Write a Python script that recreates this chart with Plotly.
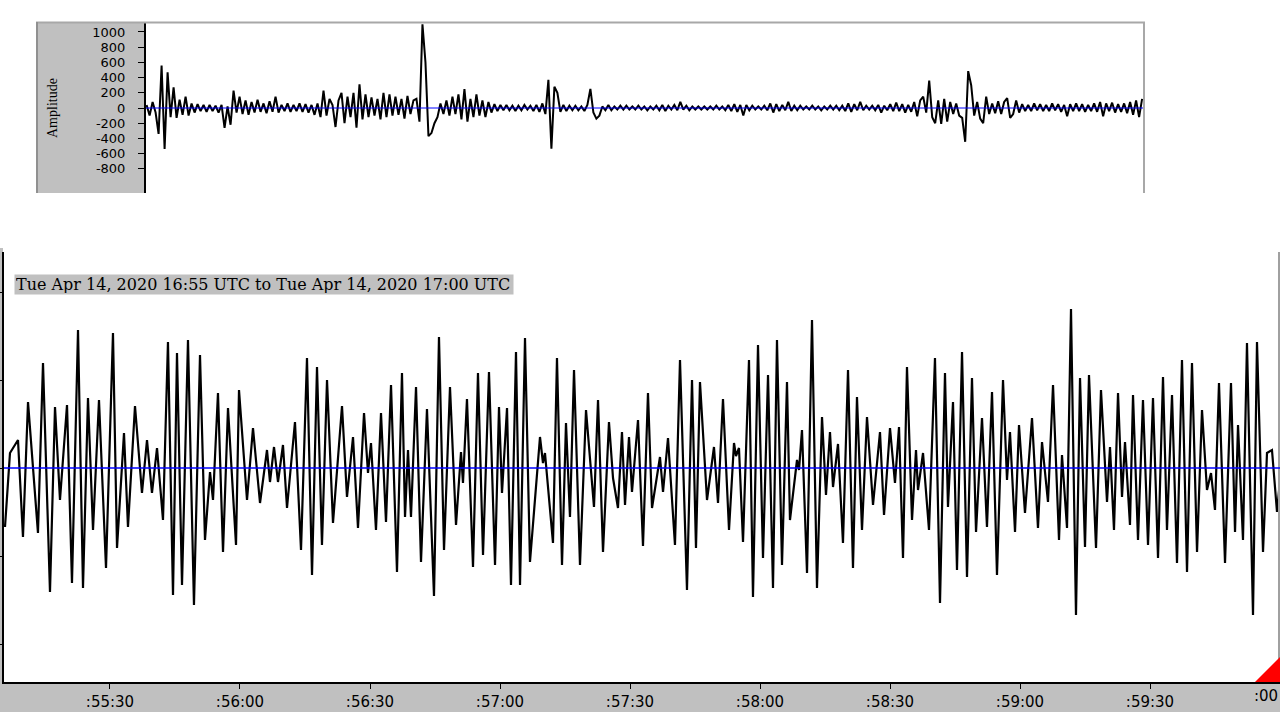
import pandas as pd
import plotly.graph_objects as go

W, H = 1280, 720

# ---------------- Upper helicorder strip (counts), one value every top_dt s ----------------
top_dt = 10
top_amp = [
    40, -100, 80, -60, -340, 560, -540, 470, -120, 270,
    -130, 110, -90, 150, -100, 60, -60, 50, -40, 40,
    -50, 40, -40, 30, -60, 40, -260, 20, -220, 230,
    -60, 150, -80, 100, -90, 80, -60, 110, -50, 60,
    -70, 90, -50, 150, -60, 40, -40, 60, -50, 40,
    -40, 60, -50, 50, -60, 40, -90, 60, -120, 230,
    -100, 120, 40, -250, 100, 200, -200, 150, -120, 200,
    -260, 310, -150, 180, -120, 140, -100, 120, -150, 200,
    -120, 180, -100, 150, -90, 120, -140, 160, -80, 100,
    120, -180, 1100, 600, -370, -330, -200, -120, 60, -80,
    100, -100, 150, -80, 180, -150, 250, -180, 120, -120,
    180, -100, 100, -120, 80, -60, 50, -40, 40, -30,
    40, -30, 30, -40, 30, -30, 40, -20, 30, -40,
    40, -50, 60, -80, 370, -535, 280, 200, -50, 40,
    -40, 30, -30, 30, -30, 20, -40, 40, 250, -60,
    -140, -100, 20, -30, 40, -30, 20, -20, 30, -20,
    30, -20, 20, -20, 30, -20, 20, -30, 20, -20,
    30, -30, 40, -40, 30, -20, 40, -30, 80, -20,
    30, -30, 20, -20, 20, -20, 20, -20, 20, -20,
    30, -20, 20, -30, 40, -40, 50, -50, 40, -100,
    40, -30, 30, -20, 20, -20, 30, -30, 60, -60,
    50, -40, 40, -30, 80, -40, 30, -30, 30, -20,
    20, -20, 30, -20, 20, -30, 20, -20, 30, -20,
    30, -30, 30, -40, 60, -50, 50, -30, 80, -30,
    30, -20, 30, -30, 40, -60, 30, -30, 50, -40,
    70, -40, 50, -60, 40, -50, 80, -110, 100, 150,
    -60, 360, -120, -200, 100, -210, 120, -180, 80, -80,
    60, -100, -130, -445, 485, 300, -100, 80, -140, -200,
    150, -80, 60, -70, 90, -80, 80, 130, -130, -80,
    100, -60, 50, -40, 40, -40, 60, -30, 50, -40,
    40, -40, 60, -30, 50, -50, 40, -110, 50, -40,
    60, -40, 50, -50, 40, -40, 60, -50, 80, -110,
    60, -40, 70, -60, 50, -50, 60, -70, 80, -90, 100, -120, 120,
]
top_yticks = [1000, 800, 600, 400, 200, 0, -200, -400, -600, -800]
top_ytext = ["1000", "800", "600", "400", "200", "0", "-200", "-400", "-600", "-800"]

# ---------------- Lower 5-minute trace: seconds after 16:55:00 and amplitude ----------------
start = "2020-04-14 16:55:00"
view_start = "2020-04-14 16:55:05.54"
view_end = "2020-04-14 17:00:00"
end_label = ":00"
bottom_t_sec = [
    5.77, 6.92, 8.77, 9.92, 11.08, 13.38, 14.54, 16.15, 17.31, 18.46,
    20.08, 21.23, 22.62, 23.77, 24.92, 26.08, 27.46, 29.08, 30.69, 31.62,
    33.23, 34.15, 35.77, 37.38, 38.54, 39.69, 40.85, 42.23, 43.38, 44.54,
    45.46, 46.62, 48.00, 49.38, 50.77, 51.92, 53.08, 53.77, 54.92, 56.08,
    57.23, 59.08, 59.77, 61.62, 63.00, 64.62, 66.23, 66.92, 67.85, 68.77,
    69.92, 70.85, 72.69, 74.08, 75.46, 76.62, 77.77, 78.92, 80.08, 81.46,
    83.54, 84.69, 86.08, 87.23, 88.62, 89.54, 90.23, 91.38, 92.54, 93.69,
    94.85, 96.23, 97.38, 98.08, 98.77, 99.46, 100.62, 101.77, 103.15, 104.77,
    105.92, 107.08, 108.46, 109.85, 111.00, 111.46, 112.38, 113.77, 114.92, 116.08,
    117.46, 118.85, 119.77, 120.46, 121.62, 122.54, 123.69, 124.62, 125.77, 126.92,
    129.23, 129.92, 130.38, 132.23, 133.15, 134.31, 135.23, 136.15, 137.08, 138.46,
    139.85, 140.77, 141.69, 142.62, 143.77, 145.15, 146.08, 147.23, 148.15, 148.85,
    149.77, 150.46, 151.85, 153.00, 154.15, 155.08, 156.92, 157.62, 158.77, 160.38,
    161.54, 163.15, 164.31, 165.23, 166.15, 167.77, 169.38, 170.31, 171.46, 172.85,
    174.00, 174.46, 175.15, 176.08, 177.46, 178.38, 179.54, 180.69, 181.85, 183.00,
    183.92, 185.08, 186.23, 186.92, 188.54, 189.00, 189.69, 190.85, 192.00, 193.15,
    194.31, 195.23, 196.15, 196.85, 198.00, 199.15, 200.31, 201.46, 202.38, 203.54,
    204.69, 206.08, 207.69, 208.62, 210.00, 211.15, 212.08, 213.00, 213.92, 215.08,
    216.00, 216.46, 217.62, 219.00, 220.38, 221.54, 222.69, 223.38, 224.54, 225.46,
    226.62, 227.77, 228.92, 229.85, 231.23, 232.38, 233.54, 234.69, 236.08, 237.00,
    237.69, 238.85, 239.77, 241.15, 242.77, 244.15, 245.08, 246.46, 247.62, 249.00,
    249.69, 250.85, 251.77, 252.92, 253.85, 255.00, 255.92, 257.54, 258.69, 260.08,
    260.77, 261.69, 262.62, 263.54, 264.23, 265.38, 266.08, 267.23, 268.38, 269.54,
    270.69, 271.85, 273.00, 273.92, 275.08, 276.23, 277.38, 278.54, 279.69, 280.85,
    282.00, 283.15, 284.08, 285.00, 285.92, 287.31, 288.69, 289.62, 290.31, 291.46,
    292.38, 293.77, 294.69, 296.08, 297.00, 298.15, 299.31, 300.00,
]
bottom_amp = [
    -59, 15, 28, -69, 66, -65, 105, -124, 61, -32,
    63, -115, 138, -120, 70, -62, 68, -100, 135, -80,
    35, -59, 62, -25, 28, -25, 20, -52, 126, -127,
    115, -117, 128, -137, 113, -72, -4, -32, 75, -84,
    60, -77, 78, -32, 40, -35, 18, -14, 21, -14,
    23, -40, 46, -82, 110, -107, 101, -77, 88, -55,
    62, -29, 31, -60, 55, -5, 25, -62, 55, -54,
    83, -104, 95, -49, 18, -49, 81, -94, 59, -128,
    131, -82, 81, -57, 16, -15, 69, -99, 95, -87,
    96, -97, 61, -25, 60, -117, 116, -117, 130, -94,
    31, 5, 15, -75, 110, -97, 45, -49, 98, -97,
    58, 5, -39, 68, -84, 46, -10, -40, 36, -37,
    31, -24, 48, -78, 75, -40, 11, -24, 30, -77,
    108, -122, 88, -80, 86, -32, 21, -35, 69, -62,
    25, 12, 20, -74, 108, -129, 123, -90, 93, -120,
    128, -97, 86, -52, 8, -2, 38, -105, 148, -120,
    51, -27, 36, -19, 24, -75, 98, -100, 71, -62,
    51, -37, 36, -47, 40, -15, 41, -90, 101, -52,
    18, -22, 15, -62, 110, -135, 95, -39, 66, -102,
    116, -109, 90, -64, 50, -59, 76, -107, 88, -12,
    36, -64, 43, -45, 50, -60, 26, -34, 83, -72,
    13, -60, 159, -147, 90, -79, 93, -80, 78, -34,
    21, -62, 75, -29, 26, -57, 73, -72, 68, -77,
    70, -90, 91, -62, 73, -95, 108, -104, 105, -84,
    58, -22, -5, -42, 85, -95, 85, -64, 43, -72,
    125, -147, 126, -84, 15, 18, -44, -12,
]
bottom_yticks = [-176, -88, 0, 88, 176]
window_label = "Tue Apr 14, 2020 16:55 UTC to Tue Apr 14, 2020 17:00 UTC"
y_title = "Amplitude"

# ---------------- build ----------------
top_t = [i * top_dt for i in range(len(top_amp))]
bottom_time = pd.Timestamp(start) + pd.to_timedelta(bottom_t_sec, unit="s")


def fx(x):
    return x / W


def fy(y):
    return 1 - y / H


fig = go.Figure()
fig.add_trace(go.Scatter(x=top_t, y=top_amp, mode="lines", xaxis="x", yaxis="y",
                         line=dict(color="black", width=2.0), hoverinfo="skip"))
fig.add_trace(go.Scatter(x=bottom_time, y=bottom_amp, mode="lines", xaxis="x2", yaxis="y2",
                         line=dict(color="black", width=2.2), hoverinfo="skip"))

fig.update_layout(
    width=W, height=H, margin=dict(l=0, r=0, t=0, b=0),
    paper_bgcolor="white", plot_bgcolor="white", showlegend=False,
    xaxis=dict(domain=[fx(146), fx(1143)], range=[-2, (len(top_amp) - 1) * top_dt + 3],
               visible=False, anchor="y", fixedrange=True),
    yaxis=dict(domain=[fy(193), fy(23)], range=[-1118, 1118], anchor="x",
               tickvals=top_yticks, ticktext=top_ytext, ticks="outside", ticklen=6,
               tickwidth=1, tickcolor="black", showline=True, linecolor="black",
               linewidth=2, showgrid=False, zeroline=False,
               tickfont=dict(family="DejaVu Sans", size=13, color="black"),
               ticklabelstandoff=10, fixedrange=True),
    xaxis2=dict(domain=[fx(4), 1], range=[view_start, view_end], type="date", anchor="y2",
                tick0=start, dtick=30000, tickformat=":%M:%S", ticks="outside",
                ticklen=5, tickwidth=1, tickcolor="black", showline=True,
                linecolor="black", linewidth=2, showgrid=False, zeroline=False,
                tickfont=dict(family="DejaVu Sans", size=15, color="black"),
                ticklabeloverflow="hide past div", fixedrange=True),
    yaxis2=dict(domain=[fy(682), fy(252)], range=[-214, 216], anchor="x2",
                tickvals=bottom_yticks, showticklabels=False, ticks="outside",
                ticklen=4, tickcolor="black", showline=True, linecolor="black",
                linewidth=2, showgrid=False, zeroline=False, fixedrange=True),
)

shapes = [
    # grey label column of upper panel
    dict(type="rect", xref="paper", yref="paper", x0=fx(37), x1=fx(145), y0=fy(193), y1=fy(23),
         fillcolor="#c0c0c0", line=dict(width=0), layer="below"),
    dict(type="line", xref="paper", yref="paper", x0=fx(36), x1=fx(1145), y0=fy(22.5), y1=fy(22.5),
         line=dict(color="#a8a8a8", width=2)),
    dict(type="line", xref="paper", yref="paper", x0=fx(37), x1=fx(37), y0=fy(22), y1=fy(193),
         line=dict(color="#909090", width=2)),
    dict(type="line", xref="paper", yref="paper", x0=fx(1144), x1=fx(1144), y0=fy(22), y1=fy(193),
         line=dict(color="#a8a8a8", width=2)),
    # grey strip under lower panel
    dict(type="rect", xref="paper", yref="paper", x0=0, x1=1, y0=fy(712), y1=fy(683),
         fillcolor="#c0c0c0", line=dict(width=0), layer="below"),
    dict(type="rect", xref="paper", yref="paper", x0=0, x1=fx(3), y0=fy(712), y1=fy(248),
         fillcolor="#c0c0c0", line=dict(width=0), layer="below"),
    dict(type="line", xref="paper", yref="paper", x0=fx(1279), x1=fx(1279), y0=fy(682), y1=fy(252),
         line=dict(color="#a0a0a0", width=2)),
    # zero lines
    dict(type="line", xref="x domain", yref="y", x0=0, x1=1, y0=0, y1=0,
         line=dict(color="#0000ff", width=1), layer="above"),
    dict(type="line", xref="x2 domain", yref="y2", x0=0, x1=1, y0=0, y1=0,
         line=dict(color="#0000ff", width=1.5), layer="above"),
    # red corner marker
    dict(type="path", xref="paper", yref="paper",
         path=f"M {fx(1255)},{fy(682)} L {fx(1280)},{fy(682)} L {fx(1280)},{fy(657)} Z",
         fillcolor="#ff0000", line=dict(width=0), layer="above"),
]
fig.update_layout(shapes=shapes)

fig.add_annotation(x=fx(52), y=fy(108), xref="paper", yref="paper", text=y_title,
                   textangle=-90, showarrow=False, xanchor="center", yanchor="middle",
                   font=dict(family="Liberation Serif", size=14, color="black"))
fig.add_annotation(x=fx(14), y=fy(284.5), xref="paper", yref="paper", text=window_label,
                   xanchor="left", yanchor="middle", showarrow=False, align="left",
                   width=496, height=17, bgcolor="#c0c0c0", borderpad=1,
                   font=dict(family="DejaVu Serif", size=16, color="black"))
# the 17:00 tick label is cut by the right edge of the window: only ":00" shows
fig.add_annotation(x=1, y=fy(696), xref="paper", yref="paper", text=end_label,
                   xanchor="right", yanchor="middle", showarrow=False,
                   font=dict(family="DejaVu Sans", size=15, color="black"))

post = (
    "document.documentElement.style.overflow='hidden';"
    "document.body.style.margin='0';document.body.style.overflow='hidden';"
)
fig.write_html("out.html", config={"displayModeBar": False}, post_script=post)
